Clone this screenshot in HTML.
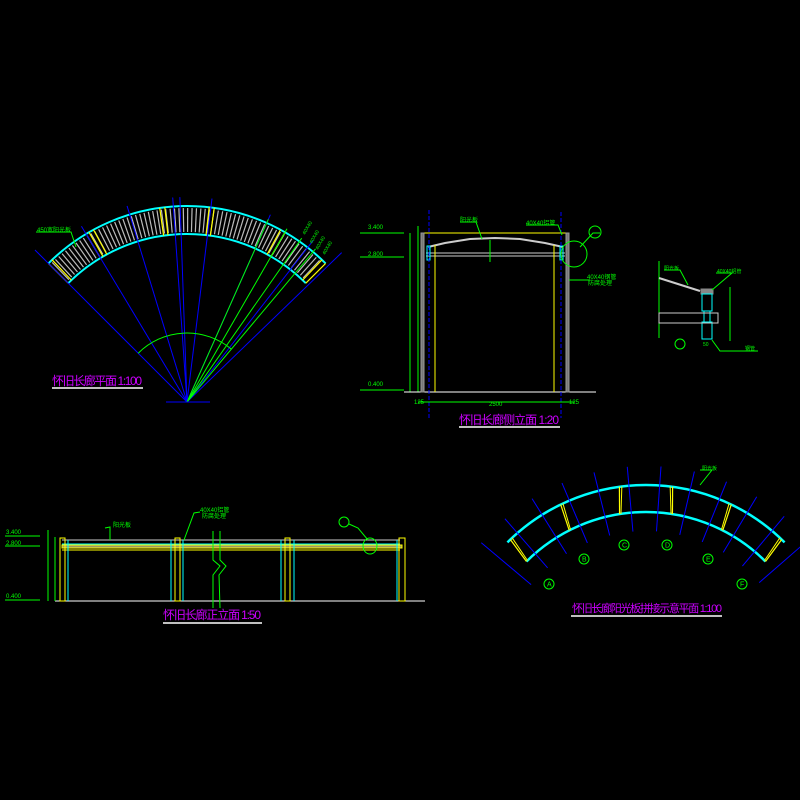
<!DOCTYPE html>
<html><head><meta charset="utf-8"><style>
html,body{margin:0;padding:0;background:#000;width:800px;height:800px;overflow:hidden}
svg{display:block}
text{font-family:"Liberation Sans","Noto Sans CJK SC",sans-serif}
</style></head><body>
<svg id="s" width="800" height="800" viewBox="0 0 800 800" xmlns="http://www.w3.org/2000/svg">
<rect width="800" height="800" fill="#000"/>
<g id="fan"></g>
<g id="plan2"></g>

<!-- fan labels -->
<polyline points="36,232 71,232 76,247" fill="none" stroke="#0f0" stroke-width="1"/>
<text x="37" y="232" font-size="6" fill="#0f0">450宽阳光板</text>
<g font-size="5" fill="#0f0">
<text transform="translate(305,235) rotate(-60)">40X40</text>
<text transform="translate(312,244) rotate(-60)">40X40</text>
<text transform="translate(318,250) rotate(-60)">40X40</text>
<text transform="translate(325,255) rotate(-60)">40X40</text>
</g>
<text x="52" y="385" font-size="12" fill="#c0f" textLength="90">怀旧长廊平面 1:100</text>
<line x1="52" y1="388" x2="143" y2="388" stroke="#fff" stroke-width="1.5"/>
<line x1="166" y1="402" x2="210" y2="402" stroke="#00f" stroke-width="1"/>

<!-- side elevation -->
<g stroke-width="1" fill="none">
<line x1="360" y1="233" x2="404" y2="233" stroke="#0f0"/>
<line x1="360" y1="257" x2="404" y2="257" stroke="#0f0"/>
<line x1="360" y1="390" x2="404" y2="390" stroke="#0f0"/>
<line x1="410" y1="233" x2="410" y2="392" stroke="#0f0"/>
<line x1="418" y1="226" x2="418" y2="392" stroke="#0f0"/>
<line x1="404" y1="392" x2="596" y2="392" stroke="#fff"/>
<line x1="423" y1="233" x2="568" y2="233" stroke="#ff0"/>
<rect x="421" y="233" width="3" height="159" stroke="#999" fill="#777"/>
<rect x="566" y="233" width="3" height="159" stroke="#999" fill="#777"/>
<polyline points="428,247 445,243 470,239 495,238 520,239 545,243 563,247" stroke="#ccc" stroke-width="2"/>
<line x1="426" y1="253" x2="565" y2="253" stroke="#ccc"/>
<line x1="426" y1="256" x2="565" y2="256" stroke="#ccc"/>
<rect x="427" y="246" width="3" height="14" stroke="#0ff"/>
<rect x="560" y="246" width="3" height="14" stroke="#0ff"/>
<line x1="435" y1="245" x2="435" y2="392" stroke="#ff0"/>
<line x1="554" y1="245" x2="554" y2="392" stroke="#ff0"/>
<line x1="429" y1="210" x2="429" y2="420" stroke="#00f" stroke-dasharray="4,2"/>
<line x1="561" y1="212" x2="561" y2="418" stroke="#00f" stroke-dasharray="4,2"/>
<line x1="418" y1="402" x2="575" y2="402" stroke="#0f0"/>
<circle cx="574" cy="254" r="13" stroke="#0f0"/>
<polyline points="580,247 593,233 600,233" stroke="#0f0"/>
<circle cx="595" cy="232" r="6" stroke="#0f0"/>
<polyline points="569,280 590,280" stroke="#0f0"/>
<polyline points="460,222 476,222 482,239" stroke="#0f0"/>
<polyline points="526,225 558,225 562,235" stroke="#0f0"/>
<line x1="490" y1="240" x2="490" y2="262" stroke="#0f0"/>
</g>
<g font-size="6" fill="#0f0">
<text x="368" y="229">3.400</text><text x="368" y="256">2.800</text><text x="368" y="386">0.400</text>
<text x="460" y="222">阳光板</text><text x="526" y="225">40X40铝管</text>
<text x="587" y="279">40X40钢管</text><text x="588" y="285">防腐处理</text>
<text x="489" y="406">2500</text><text x="414" y="404">125</text><text x="569" y="404">125</text>
</g>
<text x="459" y="424" font-size="12" fill="#c0f" textLength="100">怀旧长廊侧立面 1:20</text>
<line x1="459" y1="427" x2="560" y2="427" stroke="#fff" stroke-width="1.5"/>

<!-- detail -->
<g stroke-width="1" fill="none">
<line x1="659" y1="261" x2="659" y2="338" stroke="#0f0"/>
<polyline points="659,278 700,291" stroke="#ccc" stroke-width="2"/>
<rect x="701" y="289" width="12" height="5" fill="#888" stroke="#888"/>
<rect x="702" y="294" width="10" height="17" stroke="#0ff"/>
<rect x="704" y="311" width="6" height="11" stroke="#0ff"/>
<rect x="702" y="322" width="10" height="17" stroke="#0ff"/>
<rect x="659" y="313" width="59" height="10" stroke="#ccc"/>
<polyline points="664,270 680,270 688,285" stroke="#0f0"/>
<polyline points="716,273 732,273 712,290" stroke="#0f0"/>
<line x1="730" y1="287" x2="730" y2="341" stroke="#0f0"/>
<polyline points="712,340 720,351 758,351" stroke="#0f0"/>
<circle cx="680" cy="344" r="5" stroke="#0f0"/>
</g>
<g font-size="5" fill="#0f0"><text x="664" y="270">阳光板</text><text x="717" y="273">40X40铝管</text><text x="745" y="350">钢管</text><text x="703" y="346">50</text></g>

<!-- front elevation -->
<g stroke-width="1" fill="none">
<line x1="55" y1="601" x2="425" y2="601" stroke="#fff"/>
<line x1="5" y1="536" x2="40" y2="536" stroke="#0f0"/>
<line x1="5" y1="546" x2="40" y2="546" stroke="#0f0"/>
<line x1="5" y1="600" x2="40" y2="600" stroke="#0f0"/>
<line x1="48" y1="530" x2="48" y2="601" stroke="#0f0"/>
<line x1="55" y1="537" x2="55" y2="601" stroke="#0f0"/>
<line x1="62" y1="540" x2="400" y2="540" stroke="#ccc"/>
<line x1="62" y1="544" x2="400" y2="544" stroke="#0ff"/>
<rect x="62" y="545" width="340" height="3" stroke="#ff0" fill="#996"/>
<line x1="62" y1="550" x2="400" y2="550" stroke="#ff0"/>
<rect x="60" y="538" width="5" height="63" stroke="#ff0"/>
<line x1="68" y1="540" x2="68" y2="601" stroke="#0ff"/>
<line x1="171" y1="540" x2="171" y2="601" stroke="#0ff"/>
<rect x="175" y="538" width="5" height="63" stroke="#ff0"/>
<line x1="183" y1="540" x2="183" y2="601" stroke="#0ff"/>
<line x1="281" y1="540" x2="281" y2="601" stroke="#0ff"/>
<rect x="285" y="538" width="5" height="63" stroke="#ff0"/>
<line x1="294" y1="540" x2="294" y2="601" stroke="#0ff"/>
<line x1="397" y1="540" x2="397" y2="601" stroke="#0ff"/>
<rect x="399" y="538" width="6" height="63" stroke="#ff0"/>
<polyline points="213,531 213,560 220,566 213,575 213,608" stroke="#0f0"/>
<polyline points="220,531 220,560 226,566 219,575 220,608" stroke="#0f0"/>
<polyline points="105,528 110,527 110,540" stroke="#0f0"/>
<polyline points="200,512 194,513 184,540" stroke="#0f0"/>
<circle cx="344" cy="522" r="5" stroke="#0f0"/>
<polyline points="349,524 358,528 368,540" stroke="#0f0"/>
<ellipse cx="370" cy="546" rx="7" ry="8" stroke="#0f0"/>
</g>
<g font-size="6" fill="#0f0"><text x="6" y="534">3.400</text><text x="6" y="545">2.800</text><text x="6" y="598">0.400</text><text x="113" y="527">阳光板</text><text x="200" y="512">40X40铝管</text><text x="202" y="518">防腐处理</text></g>
<text x="163" y="619" font-size="12" fill="#c0f" textLength="98">怀旧长廊正立面 1:50</text>
<line x1="163" y1="623" x2="262" y2="623" stroke="#fff" stroke-width="1.5"/>

<text x="572" y="612" font-size="11" fill="#c0f" textLength="150">怀旧长廊阳光板拼接示意平面 1:100</text>
<line x1="571" y1="616" x2="722" y2="616" stroke="#fff" stroke-width="1.5"/>
<polyline points="700,470 712,470 700,485" fill="none" stroke="#0f0"/>
<text x="702" y="470" font-size="5" fill="#0f0">阳光板</text>
</svg>
<script>
var NS="http://www.w3.org/2000/svg";
function el(p,t,a){var e=document.createElementNS(NS,t);for(var k in a)e.setAttribute(k,a[k]);p.appendChild(e);return e;}
function pt(cx,cy,r,d){var a=d*Math.PI/180;return [cx+r*Math.sin(a),cy-r*Math.cos(a)];}
function arc(g,cx,cy,r,a0,a1,col,w){var s=pt(cx,cy,r,a0),e=pt(cx,cy,r,a1);el(g,"path",{d:"M"+s+" A"+r+" "+r+" 0 0 1 "+e,fill:"none",stroke:col,"stroke-width":w});}
function ln(g,a,b,col,w,extra){var o={x1:a[0],y1:a[1],x2:b[0],y2:b[1],stroke:col,"stroke-width":w||1};for(var k in extra)o[k]=extra[k];el(g,"line",o);}
// fan
var g=document.getElementById("fan"),cx=187,cy=402,R=196,r=168;
for(var d=-44;d<=44;d+=1.3){ln(g,pt(cx,cy,r+2,d),pt(cx,cy,R-2,d),"#bbb",1.2);}
arc(g,cx,cy,R,-45,45,"#0ff",2);arc(g,cx,cy,r,-45,45,"#0ff",2);
[-45,-30,-8,8,30,45].forEach(function(d){var o=d<0?1.5:-1.5;[d,d+o].forEach(function(q){ln(g,pt(cx,cy,r,q),pt(cx,cy,R,q),"#ff0",1.2);});});
[-45,-31,-17,-4,7,24,38,46].forEach(function(d){ln(g,[cx,cy],pt(cx,cy,d==-45||d==46?215:205,d),"#00f",1);});
ln(g,[cx,cy],pt(cx,cy,205,-2),"#00f",1);
[24,30,35,40].forEach(function(d){ln(g,[cx,cy],pt(cx,cy,200,d),"#0f0",1);});
arc(g,cx,cy,69,-45,40,"#0f0",1);
// plan 2
var h=document.getElementById("plan2"),px=646,py=681,PR=196,pr=169;
arc(h,px,py,PR,-45,45,"#0ff",2.5);arc(h,px,py,pr,-45,45,"#0ff",2.5);
[-45,-27,-9,9,27,45].forEach(function(d){var o=d<0?1.2:-1.2;ln(h,pt(px,py,pr,d),pt(px,py,PR,d+o),"#ff0",1.2);ln(h,pt(px,py,pr,d+o*0.4),pt(px,py,PR,d+o*1.6),"#ff0",1);});
for(var d=-50;d<=50;d+=9){ln(h,pt(px,py,150,d),pt(px,py,215,d),"#00f",1);}
var L=[["A",549,584],["B",584,559],["C",624,545],["D",667,545],["E",708,559],["F",742,584]];
L.forEach(function(l){el(h,"circle",{cx:l[1],cy:l[2],r:5,fill:"none",stroke:"#0f0"});var t=el(h,"text",{x:l[1]-2,y:l[2]+2.5,"font-size":7,fill:"#0f0"});t.textContent=l[0];});
</script>
</body></html>
